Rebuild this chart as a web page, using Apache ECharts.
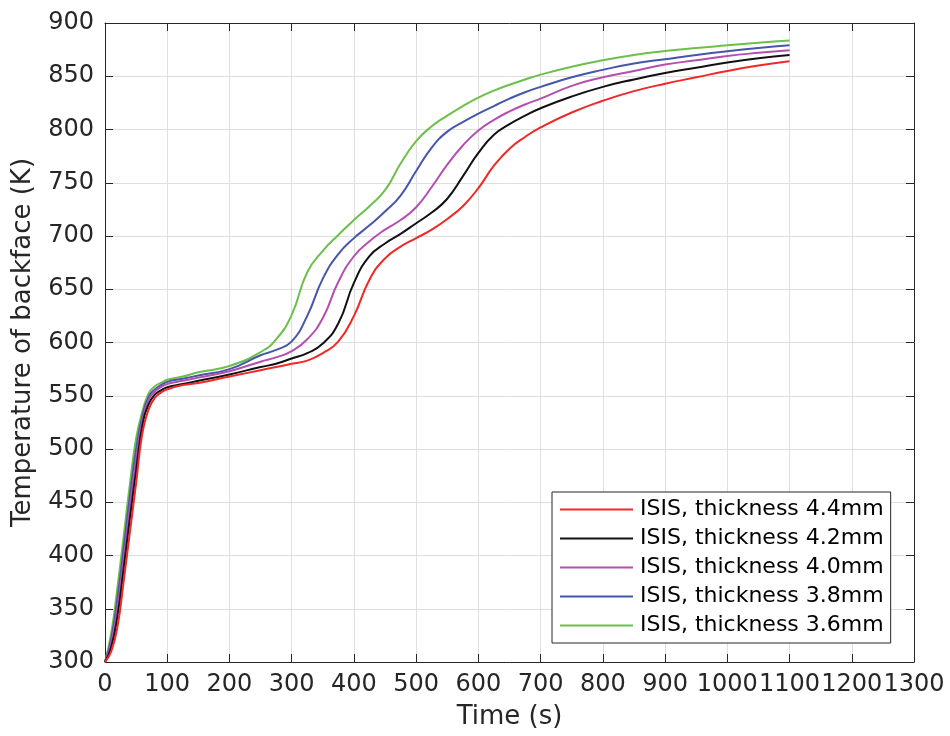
<!DOCTYPE html>
<html>
<head>
<meta charset="utf-8">
<script src="https://cdn.jsdelivr.net/npm/echarts@6/dist/echarts.min.js"></script>
<style>
html,body{margin:0;padding:0;background:#fff;}
#chart{width:950px;height:736px;}
</style>
</head>
<body>
<div id="chart"></div>
<script>
const time = [0,10,20,30,40,50,60,70,80,90,100,125,150,200,250,275,300,325,350,375,400,425,450,475,500,525,550,575,600,625,650,675,700,750,800,850,900,950,1000,1050,1100];

const t44 = [300,310,333,376,422,468,515,537,548,553,556,560,562,568,574,577,580,583,590,601,625,659,679,690,698,706,716,728,745,766,782,793,802,816,827,836,843,849,855,860,864];
const t42 = [300,314,343,388,435,480,522,542,551,555,558,561,564,570,577,580,585,590,599,618,656,681,693,702,712,722,735,756,778,795,805,813,820,831,840,847,853,858,863,867,870];
const t40 = [300,318,352,397,446,490,527,546,554,558,561,564,567,573,582,586,592,603,623,657,681,695,706,715,727,746,767,785,799,809,817,823.5,829,841,849,855,861,865,869,872,874.5];
const t38 = [300,322,360,407,456,500,531,549,556,560,563,566,569,575,588,593,601,625,660,683,698,710,723,738,761,783,798,807,815,822,829,835,840,849,856,862,866,870,873.5,876.5,879];
const t36 = [300,327,370,418,467,510,535,552,559,562,565,568,572,578,591,603,626,666,686,701,715,728,743,768,789,803,813,822,830,836.5,842,847,851.5,859,865,870,873.6,876.5,879,881.5,883.5];

const seriesNames = ['ISIS, thickness 4.4mm','ISIS, thickness 4.2mm','ISIS, thickness 4.0mm','ISIS, thickness 3.8mm','ISIS, thickness 3.6mm'];
const seriesValues = [t44, t42, t40, t38, t36];
const seriesColors = ['#f02828','#111111','#b44fb0','#4656a8','#6cc04a'];

const xTicks = {min:0, max:1300, interval:100};
const yTicks = {min:300, max:900, interval:50};

const axisColor = '#262626';
const font = 'DejaVu Sans';

const chart = echarts.init(document.getElementById('chart'), null, {renderer:'canvas'});

const series = seriesNames.map((name, i) => ({
  name: name,
  type: 'line',
  xAxisIndex: 0,
  yAxisIndex: 0,
  data: time.map((t, j) => [t, seriesValues[i][j]]),
  showSymbol: false,
  symbol: 'none',
  smooth: 0.5,
  color: seriesColors[i],
  lineStyle: {color: seriesColors[i], width: 2},
  z: 10 - i
}));

const option = {
  backgroundColor: '#fff',
  animation: false,
  grid: {left:105, right:36, top:23, bottom:74, containLabel:false},
  legend: {
    orient: 'vertical',
    left: 552,
    top: 492,
    padding: [3, 7, 3, 8],
    itemGap: 0,
    itemWidth: 73,
    itemHeight: 2,
    icon: 'rect',
    backgroundColor: '#fff',
    borderColor: axisColor,
    borderWidth: 1,
    borderRadius: 0,
    textStyle: {fontFamily: font, fontSize: 22, color: '#000', lineHeight: 29, padding: [0,0,0,2]},
    data: seriesNames
  },
  xAxis: [
    {
      type: 'value', position: 'bottom',
      min: xTicks.min, max: xTicks.max, interval: xTicks.interval,
      name: 'Time (s)', nameLocation: 'middle', nameGap: 42,
      nameTextStyle: {fontFamily: font, fontSize: 26, color: axisColor},
      axisLine: {show: true, onZero: false, lineStyle: {color: axisColor, width: 1}},
      axisTick: {show: true, inside: true, length: 8, lineStyle: {color: axisColor}},
      axisLabel: {fontFamily: font, fontSize: 24, color: axisColor, margin: 11, hideOverlap: false,
        showMinLabel: true, showMaxLabel: true, formatter: v => String(v)},
      splitLine: {show: true, lineStyle: {color: '#dfdfdf', width: 1}}
    },
    {
      type: 'value', position: 'top',
      min: xTicks.min, max: xTicks.max, interval: xTicks.interval,
      axisLine: {show: true, onZero: false, lineStyle: {color: axisColor, width: 1}},
      axisTick: {show: true, inside: true, length: 8, lineStyle: {color: axisColor}},
      axisLabel: {show: false},
      splitLine: {show: false}
    }
  ],
  yAxis: [
    {
      type: 'value', position: 'left',
      min: yTicks.min, max: yTicks.max, interval: yTicks.interval,
      name: 'Temperature of backface (K)', nameLocation: 'middle', nameGap: 69,
      nameTextStyle: {fontFamily: font, fontSize: 26, color: axisColor},
      axisLine: {show: true, onZero: false, lineStyle: {color: axisColor, width: 1}},
      axisTick: {show: true, inside: true, length: 8, lineStyle: {color: axisColor}},
      axisLabel: {fontFamily: font, fontSize: 24, color: axisColor, margin: 11,
        showMinLabel: true, showMaxLabel: true, formatter: v => String(v)},
      splitLine: {show: true, lineStyle: {color: '#dfdfdf', width: 1}}
    },
    {
      type: 'value', position: 'right',
      min: yTicks.min, max: yTicks.max, interval: yTicks.interval,
      axisLine: {show: true, onZero: false, lineStyle: {color: axisColor, width: 1}},
      axisTick: {show: true, inside: true, length: 8, lineStyle: {color: axisColor}},
      axisLabel: {show: false},
      splitLine: {show: false}
    }
  ],
  series: series
};

chart.setOption(option);
</script>
</body>
</html>
